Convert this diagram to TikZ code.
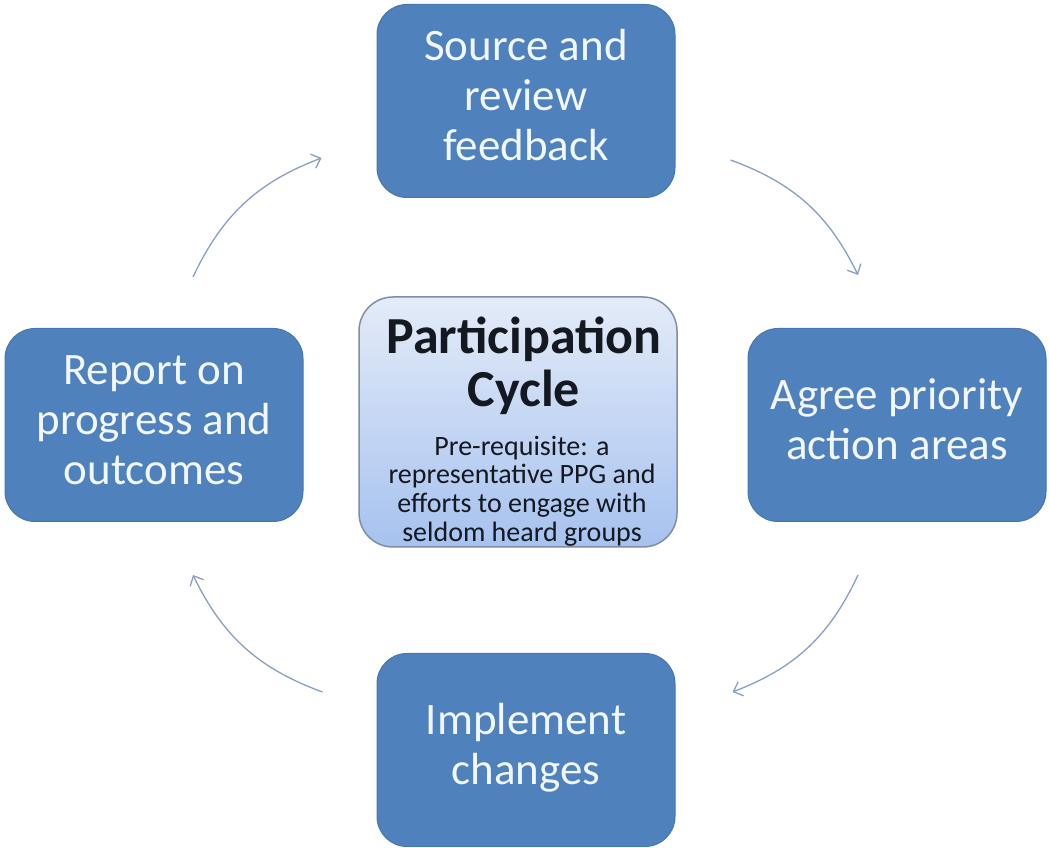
\documentclass[tikz,border=0pt]{standalone}
\usepackage{fontspec}
\setmainfont{Carlito}
\usetikzlibrary{arrows.meta,calc}
\definecolor{boxblue}{HTML}{4F81BD}
\definecolor{boxedge}{HTML}{4677B3}
\definecolor{boxtext}{HTML}{F2F6FD}
\definecolor{hubtop}{HTML}{E4EBF8}
\definecolor{hubbot}{HTML}{A6C2EF}
\definecolor{hubedge}{HTML}{7F8EA6}
\definecolor{arrowc}{HTML}{8A9FC0}
\definecolor{hubtext}{HTML}{141820}
\begin{document}
\begin{tikzpicture}[x=1pt,y=1pt,
  stage/.style={rectangle, rounded corners=30pt, fill=boxblue, draw=boxedge,
    line width=1pt, minimum width=298pt, minimum height=193pt, text=boxtext,
    align=center, font=\fontsize{45}{50}\selectfont, inner sep=0pt},
  hubbox/.style={rectangle, rounded corners=34pt, top color=hubtop,
    bottom color=hubbot, draw=hubedge, line width=1.5pt,
    minimum width=318pt, minimum height=250pt, inner sep=0pt},
  hubtitle/.style={font=\fontsize{52}{53}\selectfont\bfseries, align=center,
    anchor=north, inner sep=0pt, text=hubtext},
  hubsub/.style={font=\fontsize{28}{27}\selectfont, align=center,
    anchor=north, inner sep=0pt, text=hubtext},
  cyc/.style={-{Straight Barb[length=8pt,width=15pt]}, draw=arrowc,
    line width=1.3pt}]
\useasboundingbox (0,0) rectangle (1049,848);

\node[stage] (top) at (526,747) {\strut Source and\\\strut review\\\strut feedback};
\node[stage] (right) at (897,423) {\strut Agree priority\\\strut action areas};
\node[stage] (bottom) at (526,98) {\strut Implement\\\strut changes};
\node[stage] (left) at (154,423) {\strut Report on\\\strut progress and\\\strut outcomes};

\node[hubbox] (hub) at (518,426) {};
\node[hubtitle] (title) at (524,532) {\strut Participation\\\strut Cycle};
\node[hubsub] (sub) at (522,412) {\strut Pre-requisite: a\\\strut representative PPG and\\\strut efforts to engage with\\\strut seldom heard groups};

\coordinate (a1s) at ($(top.east)+(55,-59)$);
\coordinate (a1e) at ($(right.north)+(-39,53)$);
\coordinate (a2s) at ($(right.south)+(-39,-53)$);
\coordinate (a2e) at ($(bottom.east)+(57,58)$);
\coordinate (a3s) at ($(bottom.west)+(-54,58)$);
\coordinate (a3e) at ($(left.south)+(39,-53)$);
\coordinate (a4s) at ($(left.north)+(39,51)$);
\coordinate (a4e) at ($(top.west)+(-55,-57)$);

\draw[cyc] (a1s) to[bend left=22] (a1e);
\draw[cyc] (a2s) to[bend left=22] (a2e);
\draw[cyc] (a3s) to[bend left=22] (a3e);
\draw[cyc] (a4s) to[bend left=22] (a4e);
\end{tikzpicture}
\end{document}
